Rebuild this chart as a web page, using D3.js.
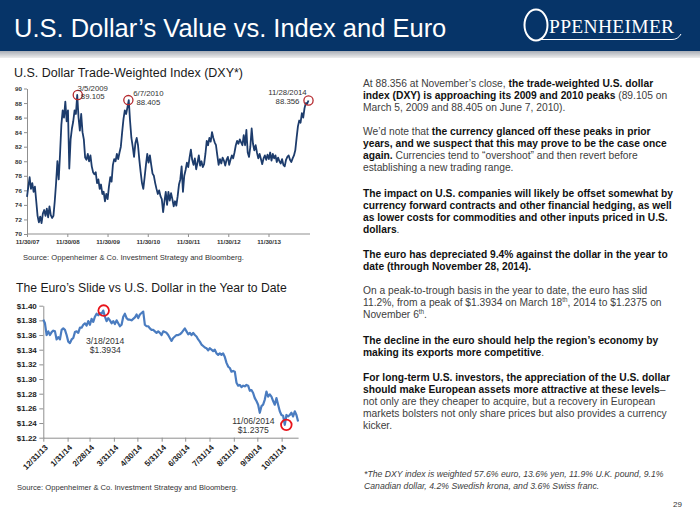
<!DOCTYPE html>
<html><head><meta charset="utf-8">
<script src="https://cdn.jsdelivr.net/npm/d3@7"></script>
<style>
body{margin:0;background:#fff}
svg{display:block}
text{font-family:"Liberation Sans",Arial,sans-serif}
</style>
</head><body>
<svg id="c" width="700" height="525"></svg>
<script>
// ---------------- DATA ----------------
// DXY: evenly spaced samples (~12 days) from 11/30/2007 to 11/28/2014
const dxyStart = "2007-11-30";
const dxyEnd = "2014-11-28";
const dxyValues = [
75.1,76.5,77.8,76.2,77.0,75.8,76.5,74.5,72.5,71.6,72.4,71.5,72.8,73.3,72.5,73.5,72.3,73.8,72.6,72.2,
72.5,74.5,77.0,80.0,77.5,81.0,85.0,87.0,86.0,88.2,85.5,87.0,79.0,83.0,84.5,85.5,87.0,86.5,89.105,86.0,
84.2,86.5,84.0,83.0,80.5,80.2,81.0,80.0,80.8,79.3,78.5,78.2,78.5,77.0,77.5,76.2,76.8,75.5,75.8,74.5,
75.5,74.8,76.5,77.8,77.2,79.5,80.3,80.0,81.0,80.3,81.2,82.0,84.0,85.8,87.0,86.5,87.4,88.405,85.5,83.2,
82.0,80.6,82.5,83.2,82.2,80.2,78.5,77.0,76.2,77.8,79.5,81.0,79.8,80.8,79.5,78.3,78.0,77.0,76.2,75.5,
76.0,75.2,74.8,73.0,74.5,75.8,74.0,75.8,74.6,75.6,74.8,73.8,74.5,73.9,75.2,76.8,77.5,79.3,75.8,78.0,
78.8,79.8,79.2,80.5,81.6,80.2,79.5,80.4,78.9,79.8,80.8,79.4,80.0,79.2,79.6,81.0,82.8,82.2,83.2,82.7,
84.0,83.2,82.6,82.2,80.8,79.5,80.3,79.7,80.5,80.1,79.4,80.2,80.6,79.5,80.2,80.8,80.4,81.2,82.2,82.8,
82.4,83.0,82.6,82.2,83.6,82.2,84.3,81.2,80.6,82.0,84.5,82.4,81.5,82.2,81.2,80.4,81.0,80.3,79.6,80.4,
80.8,80.2,80.9,80.3,81.2,80.1,81.0,80.4,80.8,79.9,80.5,80.0,79.7,80.3,79.5,79.3,80.2,80.6,80.8,80.2,
79.9,80.4,80.8,81.5,83.2,84.8,85.6,85.3,86.6,86.0,87.3,88.0,87.9,88.356
];
const dxyYTicks = [70,72,74,76,78,80,82,84,86,88,90];
const dxyTickDates = ["2007-11-30","2008-11-30","2009-11-30","2010-11-30","2011-11-30","2012-11-30","2013-11-30"];
const dxyTickLabels = ["11/30/07","11/30/08","11/30/09","11/30/10","11/30/11","11/30/12","11/30/13"];
const dxyPeakDates = ["2009-03-05","2010-06-07","2014-11-28"];
const dxyPeakValues = [89.105, 88.405, 88.356];
const dxyPeakLabels = ["3/5/2009","6/7/2010","11/28/2014"];

// EUR/USD: evenly spaced samples from 12/31/2013 to 11/21/2014
const euroStart = "2013-12-31";
const euroEnd = "2014-11-21";
const euroValues = [
1.381,1.376,1.360,1.365,1.360,1.364,1.366,1.365,1.354,1.357,1.354,1.367,1.369,1.367,1.360,1.351,1.349,1.354,1.356,1.364,
1.365,1.363,1.370,1.370,1.374,1.376,1.373,1.379,1.374,1.382,1.378,1.385,1.389,1.387,1.390,1.389,1.3934,1.385,1.379,1.383,
1.380,1.376,1.379,1.375,1.380,1.376,1.372,1.374,1.385,1.389,1.383,1.381,1.381,1.380,1.382,1.384,1.388,1.383,1.388,1.390,
1.392,1.374,1.372,1.372,1.369,1.367,1.367,1.365,1.363,1.365,1.363,1.360,1.365,1.364,1.363,1.360,1.356,
1.352,1.356,1.358,1.360,1.360,1.361,1.363,1.366,1.369,1.365,1.361,1.363,1.360,1.363,1.360,1.358,1.354,1.351,1.347,1.345,
1.343,1.342,1.339,1.342,1.340,1.338,1.340,1.335,1.333,1.335,1.333,1.335,1.330,1.322,1.317,1.315,1.310,1.311,1.310,1.295,
1.291,1.292,1.289,1.291,1.290,1.292,1.291,1.284,1.285,1.281,1.274,1.270,1.265,1.254,1.263,1.265,1.272,1.283,1.276,1.279,
1.276,1.270,1.265,1.274,1.265,1.256,1.251,1.250,1.2375,1.251,1.249,1.251,1.254,1.249,1.256,1.251,1.242
];
const euroYTicks = [1.22,1.24,1.26,1.28,1.30,1.32,1.34,1.36,1.38,1.40];
const euroTickDates = ["2013-12-31","2014-01-31","2014-02-28","2014-03-31","2014-04-30","2014-05-31","2014-06-30","2014-07-31","2014-08-31","2014-09-30","2014-10-31"];
const euroTickLabels = ["12/31/13","1/31/14","2/28/14","3/31/14","4/30/14","5/31/14","6/30/14","7/31/14","8/31/14","9/30/14","10/31/14"];
const euroPeakDates = ["2014-03-18","2014-11-06"];
const euroPeakValues = [1.3934, 1.2375];
const euroPeakLabels = ["3/18/2014","11/06/2014"];

// ---------------- DRAW ----------------
const parse = d3.utcParse("%Y-%m-%d");
const svg = d3.select("#c");

// header
svg.append("rect").attr("x",0).attr("y",0).attr("width",700).attr("height",51).attr("fill","#063468");
const grad = svg.append("defs").append("linearGradient").attr("id","g1").attr("x1",0).attr("y1",0).attr("x2",0).attr("y2",1);
grad.append("stop").attr("offset","0%").attr("stop-color","#a9aeb6");
grad.append("stop").attr("offset","100%").attr("stop-color","#eeeeee");
svg.append("rect").attr("x",0).attr("y",51).attr("width",700).attr("height",7).attr("fill","url(#g1)");
svg.append("text").attr("x",14).attr("y",37).attr("fill","#fff").attr("font-size",25.5)
  .text("U.S. Dollar’s Value vs. Index and Euro");
// logo
svg.append("ellipse").attr("cx",536).attr("cy",25).attr("rx",11.5).attr("ry",15.5)
  .attr("fill","none").attr("stroke","#fff").attr("stroke-width",2);
svg.append("text").attr("x",549).attr("y",33).attr("fill","#fff").attr("font-size",19.5)
  .style("font-family","'Liberation Serif','Times New Roman',serif").attr("letter-spacing",0.3).text("PPENHEIMER");
svg.append("path").attr("d","M540 39.5 L672 39.5 Q678 39.5 681 34").attr("fill","none").attr("stroke","#fff").attr("stroke-width",1);

// ---------- DXY chart ----------
svg.append("text").attr("x",14).attr("y",76.5).attr("font-size",12.5).attr("fill","#1a1a1a")
  .text("U.S. Dollar Trade-Weighted Index (DXY*)");

const dxyData = (() => {
  const t0 = +parse(dxyStart), t1 = +parse(dxyEnd), n = dxyValues.length;
  return dxyValues.map((v,i) => ({date:new Date(t0 + (t1-t0)*i/(n-1)), value:v}));
})();
const xD = d3.scaleUtc().domain([parse(dxyStart), parse(dxyEnd)]).range([27, 308.5]);
const yD = d3.scaleLinear().domain([70,90]).range([234, 88.5]);

const gyD = svg.append("g").attr("transform","translate(27,0)")
  .call(d3.axisLeft(yD).tickValues(dxyYTicks).tickSize(3).tickSizeOuter(0).tickPadding(2).tickFormat(d3.format("d")));
const gxD = svg.append("g").attr("transform","translate(0,234)")
  .call(d3.axisBottom(xD).tickValues(dxyTickDates.map(parse)).tickSize(3).tickSizeOuter(0).tickPadding(3)
    .tickFormat((d,i)=>dxyTickLabels[i]));
gxD.select(".domain").attr("d","M27,0H310");
[gyD,gxD].forEach(g=>{
  g.select(".domain").attr("stroke","#8f8f8f");
  g.selectAll(".tick line").attr("stroke","#8f8f8f");
  g.selectAll("text").attr("font-size",6.2).attr("font-weight","bold").attr("fill","#333")
    .style("font-family","'Liberation Sans',Arial,sans-serif");
});

svg.append("path").datum(dxyData)
  .attr("d", d3.line().x(d=>xD(d.date)).y(d=>yD(d.value)))
  .attr("fill","none").attr("stroke","#1d3c6c").attr("stroke-width",1.8).attr("stroke-linejoin","round");

const dxyLabelOff = [[15,-4.5,4.2],[20,-4,5],[-21,-5,4]];
dxyPeakDates.forEach((ds,i)=>{
  const cx = xD(parse(ds)), cy = yD(dxyPeakValues[i]);
  svg.append("circle").attr("cx",cx).attr("cy",cy).attr("r",4.6)
    .attr("fill","none").attr("stroke","#b5292e").attr("stroke-width",1.3);
  const o = dxyLabelOff[i];
  svg.append("text").attr("x",cx+o[0]).attr("y",cy+o[1]).attr("text-anchor","middle")
    .attr("font-size",7.8).attr("fill","#333").text(dxyPeakLabels[i]);
  svg.append("text").attr("x",cx+o[0]).attr("y",cy+o[2]).attr("text-anchor","middle")
    .attr("font-size",7.8).attr("fill","#333").text(d3.format(".3f")(dxyPeakValues[i]));
});

svg.append("text").attr("x",23).attr("y",259.5).attr("font-size",7.6).attr("fill","#333")
  .text("Source: Oppenheimer & Co. Investment Strategy and Bloomberg.");

// ---------- Euro chart ----------
svg.append("text").attr("x",16).attr("y",291.5).attr("font-size",12.2).attr("fill","#1a1a1a")
  .text("The Euro’s Slide vs U.S. Dollar in the Year to Date");

const euroData = (() => {
  const t0 = +parse(euroStart), t1 = +parse(euroEnd), n = euroValues.length;
  return euroValues.map((v,i) => ({date:new Date(t0 + (t1-t0)*i/(n-1)), value:v}));
})();
const xE = d3.scaleUtc().domain([parse(euroStart), parse(euroEnd)]).range([43.3, 298.1]);
const yE = d3.scaleLinear().domain([1.22,1.40]).range([437.7, 305.7]);

const gyE = svg.append("g").attr("transform","translate(43.3,0)")
  .call(d3.axisLeft(yE).tickValues(euroYTicks).tickSize(4).tickSizeOuter(0).tickPadding(2.5)
    .tickFormat(d=>"$"+d.toFixed(2)));
const gxE = svg.append("g").attr("transform","translate(0,437.7)")
  .call(d3.axisBottom(xE).tickValues(euroTickDates.map(parse)).tickSize(4).tickSizeOuter(0)
    .tickFormat((d,i)=>euroTickLabels[i]));
[gyE,gxE].forEach(g=>{
  g.select(".domain").attr("stroke","#8f8f8f");
  g.selectAll(".tick line").attr("stroke","#8f8f8f");
  g.selectAll("text").attr("font-size",8).attr("font-weight","bold").attr("fill","#222")
    .style("font-family","'Liberation Sans',Arial,sans-serif");
});
gxE.selectAll("text").attr("text-anchor","end").attr("x",0).attr("y",0).attr("dy","0.35em")
  .attr("transform","translate(2.5,8.5) rotate(-45)");

svg.append("path").datum(euroData)
  .attr("d", d3.line().x(d=>xE(d.date)).y(d=>yE(d.value)))
  .attr("fill","none").attr("stroke","#4a7cc0").attr("stroke-width",2.2).attr("stroke-linejoin","round");

const euroLabelOff = [[1.5,33,42.5],[-33,-0.5,8.5]];
euroPeakDates.forEach((ds,i)=>{
  const cx = xE(parse(ds)), cy = yE(euroPeakValues[i]);
  svg.append("circle").attr("cx",cx).attr("cy",cy).attr("r",5.3)
    .attr("fill","none").attr("stroke","#e8141b").attr("stroke-width",1.8);
  const o = euroLabelOff[i];
  svg.append("text").attr("x",cx+o[0]).attr("y",cy+o[1]).attr("text-anchor","middle")
    .attr("font-size",8.6).attr("fill","#333").text(euroPeakLabels[i]);
  svg.append("text").attr("x",cx+o[0]).attr("y",cy+o[2]).attr("text-anchor","middle")
    .attr("font-size",8.6).attr("fill","#333").text("$"+euroPeakValues[i].toFixed(4));
});

svg.append("text").attr("x",17).attr("y",490).attr("font-size",7.6).attr("fill","#333")
  .text("Source: Oppenheimer & Co. Investment Strategy and Bloomberg.");

// ---------- Commentary ----------
const paras = [
 [86.5, [
   [["At 88.356 at November’s close, ",0],["the trade-weighted U.S. dollar",1]],
   [["index (DXY) is approaching its 2009 and 2010 peaks",1],[" (89.105 on",0]],
   [["March 5, 2009 and 88.405 on June 7, 2010).",0]]]],
 [135, [
   [["We’d note that ",0],["the currency glanced off these peaks in prior",1]],
   [["years, and we suspect that this may prove to be the case once",1]],
   [["again.",1],[" Currencies tend to “overshoot” and then revert before",0]],
   [["establishing a new trading range.",0]]]],
 [196.5, [
   [["The impact on U.S. companies will likely be offset somewhat by",1]],
   [["currency forward contracts and other financial hedging, as well",1]],
   [["as lower costs for commodities and other inputs priced in U.S.",1]],
   [["dollars",1],[".",0]]]],
 [257.5, [
   [["The euro has depreciated 9.4% against the dollar in the year to",1]],
   [["date (through November 28, 2014).",1]]]],
 [293.5, [
   [["On a peak-to-trough basis in the year to date, the euro has slid",0]],
   [["11.2%, from a peak of $1.3934 on March 18",0],["th",2],[", 2014 to $1.2375 on",0]],
   [["November 6",0],["th",2],[".",0]]]],
 [343.5, [
   [["The decline in the euro should help the region’s economy by",1]],
   [["making its exports more competitive",1],[".",0]]]],
 [380.5, [
   [["For long-term U.S. investors, the appreciation of the U.S. dollar",1]],
   [["should make European assets more attractive at these levels",1],["–",0]],
   [["not only are they cheaper to acquire, but a recovery in European",0]],
   [["markets bolsters not only share prices but also provides a currency",0]],
   [["kicker.",0]]]]
];
paras.forEach(([y0, lines])=>{
  lines.forEach((segs, li)=>{
    const t = svg.append("text").attr("x",363).attr("y",y0 + li*12.1).attr("font-size",10.25);
    let sup = false;
    segs.forEach(([s,b])=>{
      const ts = t.append("tspan").text(s);
      if (b===1) ts.attr("font-weight","bold").attr("fill","#111");
      else if (b===2) ts.attr("font-size",6.3).attr("dy",-4).attr("fill","#404040");
      else ts.attr("fill","#404040");
      if (b!==2 && sup) { ts.attr("dy",4); sup = false; }
      if (b===2) sup = true;
    });
  });
});

svg.append("text").attr("x",364).attr("y",476.5).attr("font-size",8.7).attr("font-style","italic").attr("fill","#404040")
  .text("*The DXY index is weighted 57.6% euro, 13.6% yen, 11.9% U.K. pound, 9.1%");
svg.append("text").attr("x",364).attr("y",488.5).attr("font-size",8.7).attr("font-style","italic").attr("fill","#404040")
  .text("Canadian dollar, 4.2% Swedish krona, and 3.6% Swiss franc.");
svg.append("text").attr("x",682).attr("y",506.5).attr("text-anchor","end").attr("font-size",8).attr("fill","#333").text("29");
</script>
</body></html>
